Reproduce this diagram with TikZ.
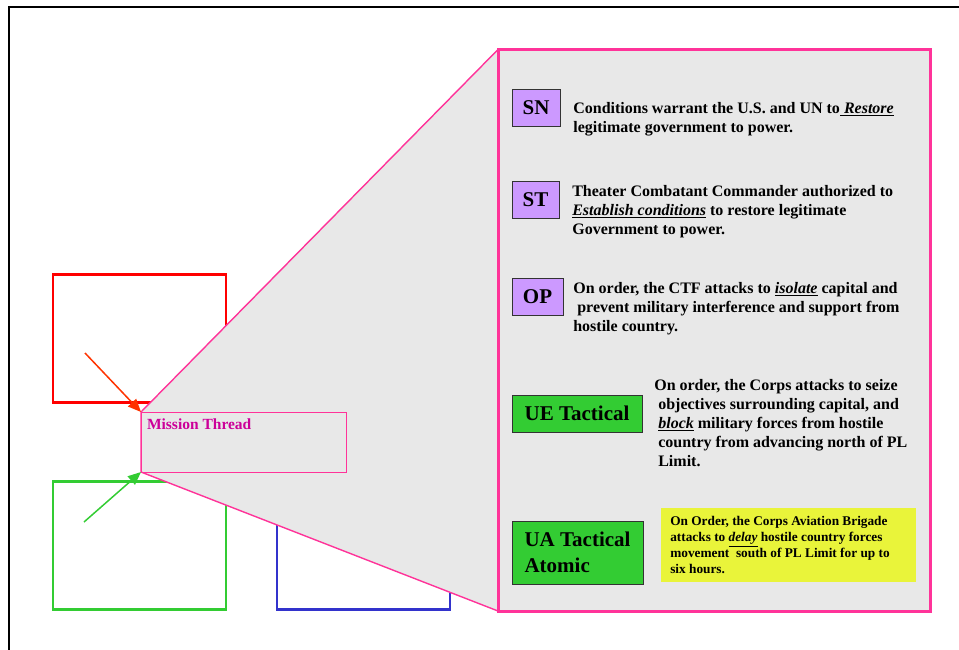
\documentclass[tikz,border=0pt]{standalone}
\usepackage{fontspec}
\setmainfont{Liberation Serif}
\usetikzlibrary{arrows.meta}

\definecolor{calloutpink}{HTML}{FF3399}
\definecolor{threadtext}{HTML}{CC0099}
\definecolor{panelgray}{HTML}{E8E8E8}
\definecolor{tagpurple}{HTML}{CC99FF}
\definecolor{taggreen}{HTML}{33CC33}
\definecolor{noteyellow}{HTML}{E9F43A}
\definecolor{boxred}{HTML}{FF0000}
\definecolor{arrowred}{HTML}{FF3300}
\definecolor{boxgreen}{HTML}{33CC33}
\definecolor{boxblue}{HTML}{3333CC}

\pgfdeclarelayer{back}
\pgfdeclarelayer{mid}
\pgfsetlayers{back,mid,main}

% multi-line text block whose baseline is the first line
\newcommand{\txtlines}[1]{\begin{tabular}[t]{@{}l@{}}#1\end{tabular}}

\begin{document}
\begin{tikzpicture}[x=1pt,y=-1pt,
  every node/.style={outer sep=0pt},
  areabox/.style={draw=#1, line width=2.8pt, anchor=north west,
    minimum width=173, minimum height=128, inner sep=0pt},
  tagbox/.style={draw=black!80, line width=0.9pt, fill=#1, inner sep=0pt,
    anchor=north west, align=left,
    font=\bfseries\fontsize{21}{26}\selectfont},
  bodytext/.style={anchor=base west, inner sep=0pt,
    font=\bfseries\fontsize{16}{19.2}\selectfont},
  notetext/.style={anchor=base west, inner sep=0pt,
    font=\bfseries\fontsize{13.3}{16}\selectfont},
  pointer/.style={line width=1.5pt, draw=#1,
    -{Triangle[length=13pt,width=11pt,fill=#1]}}
]
\useasboundingbox (0,0) rectangle (959,649);

% background frame and the three area boxes
\begin{pgfonlayer}{back}
  \draw[line width=2pt] (961,6.7) -- (9,6.7) -- (9,651);
  \node[areabox=boxred]   (redbox)   at (53,274.5) {};
  \node[areabox=boxgreen] (greenbox) at (53,481.5) {};
  \node[areabox=boxblue]  (bluebox)  at (277,481.5) {};
\end{pgfonlayer}

% mission thread box and the enlarged panel
\node[draw=calloutpink, line width=1pt, anchor=north west,
      minimum width=205, minimum height=60, inner sep=0pt] (mt) at (141,412) {};
\node[anchor=base west, inner sep=0pt, text=threadtext,
      font=\bfseries\fontsize{15.5}{18}\selectfont] (mtlabel) at (147,429) {Mission Thread};

\node[draw=calloutpink, line width=3pt, anchor=north west,
      minimum width=432, minimum height=561.5, inner sep=0pt] (panel) at (498,49.5) {};

% callout wedge joining the thread box to the panel
\begin{pgfonlayer}{mid}
  \filldraw[fill=panelgray, draw=calloutpink, line width=1.4pt]
    (mt.north west) -- (panel.north west) -- (panel.north east)
    -- (panel.south east) -- (panel.south west) -- (mt.south west) -- cycle;
\end{pgfonlayer}

% level tags
\node[tagbox=tagpurple, minimum width=48, minimum height=37] (sn) at (512,89) {SN};
\node[tagbox=tagpurple, minimum width=47, minimum height=37] (st) at (512,181) {ST};
\node[tagbox=tagpurple, minimum width=51, minimum height=37] (op) at (512,278) {OP};
\node[tagbox=taggreen, minimum width=130, minimum height=37] (ue) at (512,395) {UE Tactical};
\node[tagbox=taggreen, minimum width=131, minimum height=63] (ua) at (512,521) {UA Tactical\\Atomic};

% statements
\node[bodytext] (sntext) at (573.3,113.3) {\txtlines{%
  Conditions warrant the U.S. and UN to\underline{\ \textit{Restore}}\\
  legitimate government to power.}};

\node[bodytext] (sttext) at (572.3,196) {\txtlines{%
  Theater Combatant Commander authorized to\\
  \underline{\textit{Establish conditions}} to restore legitimate\\
  Government to power.}};

\node[bodytext] (optext) at (573.3,293.3) {\txtlines{%
  On order, the CTF attacks to \underline{\textit{isolate}} capital and\\
  \hspace*{4pt}prevent military interference and support from\\
  hostile country.}};

\node[bodytext] (uetext) at (658.3,390) {\txtlines{%
  \hspace*{-4pt}On order, the Corps attacks to seize\\
  objectives surrounding capital, and\\
  \underline{\textit{block}} military forces from hostile\\
  country from advancing north of PL\\
  Limit.}};

\node[fill=noteyellow, anchor=north west, minimum width=255, minimum height=74,
      inner sep=0pt] (note) at (661,508) {};
\node[notetext] (notetxt) at (670.3,525.7) {\txtlines{%
  On Order, the Corps Aviation Brigade\\
  attacks to \underline{\textit{delay}} hostile country forces\\
  movement\ \ south of PL Limit for up to\\
  six hours.}};

% pointers into the mission thread
\coordinate (redtail) at (85,353);
\coordinate (greentail) at (84,522);
\draw[pointer=arrowred] (redtail) -- (mt.north west);
\draw[pointer=boxgreen] (greentail) -- (mt.south west);
\end{tikzpicture}
\end{document}
